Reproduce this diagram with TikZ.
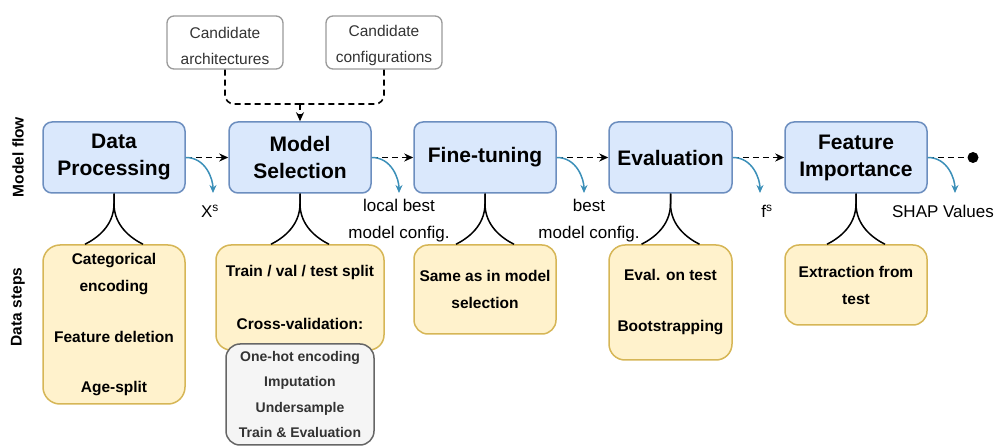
\documentclass[tikz,border=0pt]{standalone}
\usepackage{fontspec}
\setmainfont{Liberation Sans}
\usetikzlibrary{arrows.meta}
\definecolor{bluefill}{HTML}{DAE8FC}
\definecolor{bluedraw}{HTML}{6C8EBF}
\definecolor{yelfill}{HTML}{FFF2CC}
\definecolor{yeldraw}{HTML}{D6B656}
\definecolor{greyfill}{HTML}{F5F5F5}
\definecolor{greydraw}{HTML}{666666}
\definecolor{candraw}{HTML}{9A9A9A}
\definecolor{outblue}{HTML}{3B8FB8}
\definecolor{darktext}{HTML}{333333}
\begin{document}
\begin{tikzpicture}[x=1pt,y=-1pt,
  mainbox/.style={draw=bluedraw,fill=bluefill,rounded corners=9pt,line width=1.5pt,
    minimum width=142pt,minimum height=71pt,align=center,inner sep=0pt,
    font=\bfseries\fontsize{21}{27}\selectfont},
  stepbox/.style={draw=yeldraw,fill=yelfill,line width=1.5pt,align=center,inner sep=0pt,
    font=\bfseries\fontsize{15.5}{27}\selectfont},
  cvbox/.style={draw=greydraw,fill=greyfill,line width=1.5pt,rounded corners=14pt,align=center,inner sep=0pt,
    text=darktext,font=\bfseries\fontsize{14}{25.3}\selectfont},
  candbox/.style={draw=candraw,fill=white,line width=1.3pt,rounded corners=7pt,align=center,inner sep=0pt,
    minimum width=116pt,minimum height=53pt,text=darktext,font=\fontsize{15.5}{26}\selectfont},
  flowarr/.style={draw=black,line width=1.6pt,dash pattern=on 6pt off 4pt,-{Stealth[length=9pt,width=8pt]}},
  candline/.style={draw=black,line width=1.6pt,dash pattern=on 6pt off 4pt},
  outarr/.style={draw=outblue,line width=1.5pt,-{Stealth[length=8pt,width=7pt]}},
  fork/.style={draw=black,line width=1.5pt},
  lab/.style={font=\fontsize{17}{27}\selectfont,align=center,inner sep=0pt},
  side/.style={font=\bfseries\fontsize{15.5}{18}\selectfont,rotate=90,inner sep=0pt}
]
\useasboundingbox (0,0) rectangle (997,446);

% side labels
\node[side] (mflow) at (18,157) {Model flow};
\node[side] (dsteps) at (18,307) {Data steps};

% candidate boxes
\node[candbox] (arch) at (225,42.5) {\strut Candidate\\architectures};
\node[candbox] (cfg) at (384,42.5) {\strut Candidate\\configurations};

% main boxes
\node[mainbox] (dp) at (114,157.5) {Data\\Processing};
\node[mainbox] (ms) at (300,157.5) {Model\\Selection};
\node[mainbox] (ft) at (485,157.5) {Fine-tuning};
\node[mainbox,minimum width=123pt] (ev) at (670.5,157.5) {Evaluation};
\node[mainbox] (fi) at (856,157.5) {Feature\\Importance};

% candidate connectors
\coordinate (join) at (300,104);
\draw[candline,rounded corners=9pt] (arch.south) |- (join);
\draw[candline,rounded corners=9pt] (cfg.south) |- (join);
\draw[flowarr] (join) -- (ms.north);

% flow arrows
\draw[flowarr] (dp.east) -- (ms.west);
\draw[flowarr] (ms.east) -- (ft.west);
\draw[flowarr] (ft.east) -- (ev.west);
\draw[flowarr] (ev.east) -- (fi.west);
\node[circle,fill=black,inner sep=0pt,minimum size=11pt] (end) at (973,157.5) {};
\draw[candline] (fi.east) -- (end.west);

% output arrows
\coordinate (o1) at (213,193);
\coordinate (o2) at (399,193);
\coordinate (o3) at (584,193);
\coordinate (o4) at (760,193);
\coordinate (o5) at (955,193);
\draw[outarr] (dp.east) .. controls +(20,0) and +(0,-14) .. (o1);
\draw[outarr] (ms.east) .. controls +(20,0) and +(0,-14) .. (o2);
\draw[outarr] (ft.east) .. controls +(20,0) and +(0,-14) .. (o3);
\draw[outarr] (ev.east) .. controls +(20,0) and +(0,-14) .. (o4);
\draw[outarr] (fi.east) .. controls +(20,0) and +(0,-14) .. (o5);

\node[lab] (l1) at (210,211) {X\textsuperscript{s}};
\node[lab] (l2) at (399,221) {local best\\model config.};
\node[lab] (l3) at (589,221) {best\\model config.};
\node[lab] (l4) at (767,211) {f\textsuperscript{s}};
\node[lab] (l5) at (943,211) {SHAP Values};

% data step boxes
\node[stepbox,rounded corners=17pt,minimum width=142pt,minimum height=159pt] (s1) at (114,324.5)
  {Categorical\\encoding\\[24pt]Feature deletion\\[23pt]Age-split};
\node[stepbox,rounded corners=15pt,minimum width=168pt,minimum height=105pt] (s2) at (300,297.5)
  {Train / val / test split\\[26pt]Cross-validation:};
\node[cvbox,minimum width=148pt,minimum height=101pt] (cv) at (300,394.5)
  {One-hot encoding\\Imputation\\Undersample\\Train \& Evaluation};
\node[stepbox,rounded corners=14pt,minimum width=142pt,minimum height=89pt] (s3) at (485,289.5)
  {Same as in model\\selection};
\node[stepbox,rounded corners=16pt,minimum width=123pt,minimum height=115pt] (s4) at (670.5,302.5)
  {Eval. on test\\[24pt]Bootstrapping};
\node[stepbox,rounded corners=14pt,minimum width=142pt,minimum height=80pt] (s5) at (856,285)
  {Extraction from\\test};

% forks
\foreach \b/\s in {dp/s1,ms/s2,ft/s3,ev/s4,fi/s5}{
  \draw[fork] (\b.south) -- ++(0,10) .. controls +(0,22) and +(12,-6) .. ([xshift=-29pt]\s.north);
  \draw[fork] (\b.south) -- ++(0,10) .. controls +(0,22) and +(-12,-6) .. ([xshift=29pt]\s.north);
}
\end{tikzpicture}
\end{document}
